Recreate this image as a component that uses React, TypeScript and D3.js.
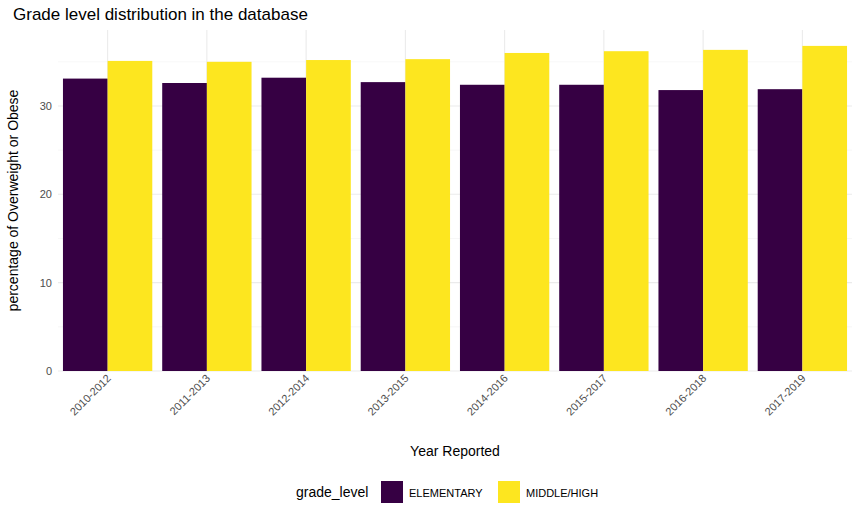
import * as d3 from 'd3';

const years = ['2010-2012', '2011-2013', '2012-2014', '2013-2015', '2014-2016', '2015-2017', '2016-2018', '2017-2019'];
const elementary = [33.1, 32.6, 33.2, 32.7, 32.4, 32.4, 31.8, 31.9];
const middleHigh = [35.1, 35.0, 35.2, 35.3, 36.0, 36.2, 36.35, 36.8];
const groups = ['ELEMENTARY', 'MIDDLE/HIGH'];
const colors = ['#360043', '#fde61f'];
const yTicks = [0, 10, 20, 30];
const yMinor = [5, 15, 25, 35];

const W = 864, H = 518;
const left = 58, right = 852, top = 30, bottom = 371;

export default function App() {
  const x = d3.scaleBand().domain(years).range([left, right]).paddingInner(0.1).paddingOuter(0.05);
  const sub = d3.scaleBand().domain(groups).range([0, x.bandwidth()]);
  const y = d3.scaleLinear().domain([0, 38.6]).range([bottom, top]);
  const series = [elementary, middleHigh];
  const font = 'Liberation Sans, Arial, sans-serif';
  return (
    <svg width={W} height={H} style={{ position: 'absolute', left: 0, top: 0 }} fontFamily={font}>
      <rect width={W} height={H} fill="#fff" />
      {yMinor.map(t => <line key={'m' + t} x1={left} x2={right} y1={y(t)} y2={y(t)} stroke="#f2f2f2" strokeWidth={0.6} />)}
      {yTicks.map(t => <line key={'g' + t} x1={left} x2={right} y1={y(t)} y2={y(t)} stroke="#ebebeb" strokeWidth={1.1} />)}
      {years.map(yr => <line key={'v' + yr} x1={x(yr)! + x.bandwidth() / 2} x2={x(yr)! + x.bandwidth() / 2} y1={top} y2={bottom} stroke="#ebebeb" strokeWidth={1.1} />)}
      {years.map((yr, i) => groups.map((g, j) => (
        <rect key={yr + g} x={x(yr)! + sub(g)!} width={sub.bandwidth()} y={y(series[j][i])} height={bottom - y(series[j][i])} fill={colors[j]} />
      )))}
      {yTicks.map(t => <text key={'t' + t} x={left - 6} y={y(t) + 4} textAnchor="end" fontSize={11} fill="#4d4d4d">{t}</text>)}
      {years.map(yr => {
        const cx = x(yr)! + x.bandwidth() / 2;
        return <text key={'x' + yr} transform={`translate(${cx + 4},${bottom + 8}) rotate(-45)`} textAnchor="end" fontSize={11} fill="#4d4d4d">{yr}</text>;
      })}
      <text x={(left + right) / 2} y={456} textAnchor="middle" fontSize={14}>Year Reported</text>
      <text transform={`translate(18,${(top + bottom) / 2}) rotate(-90)`} textAnchor="middle" fontSize={14}>percentage of Overweight or Obese</text>
      <text x={13} y={20} fontSize={17}>Grade level distribution in the database</text>
      <text x={296} y={497} fontSize={14}>grade_level</text>
      <rect x={381} y={481} width={22} height={22} fill={colors[0]} />
      <text x={409} y={497} fontSize={11}>ELEMENTARY</text>
      <rect x={498} y={481} width={22} height={22} fill={colors[1]} />
      <text x={526} y={497} fontSize={11}>MIDDLE/HIGH</text>
    </svg>
  );
}
